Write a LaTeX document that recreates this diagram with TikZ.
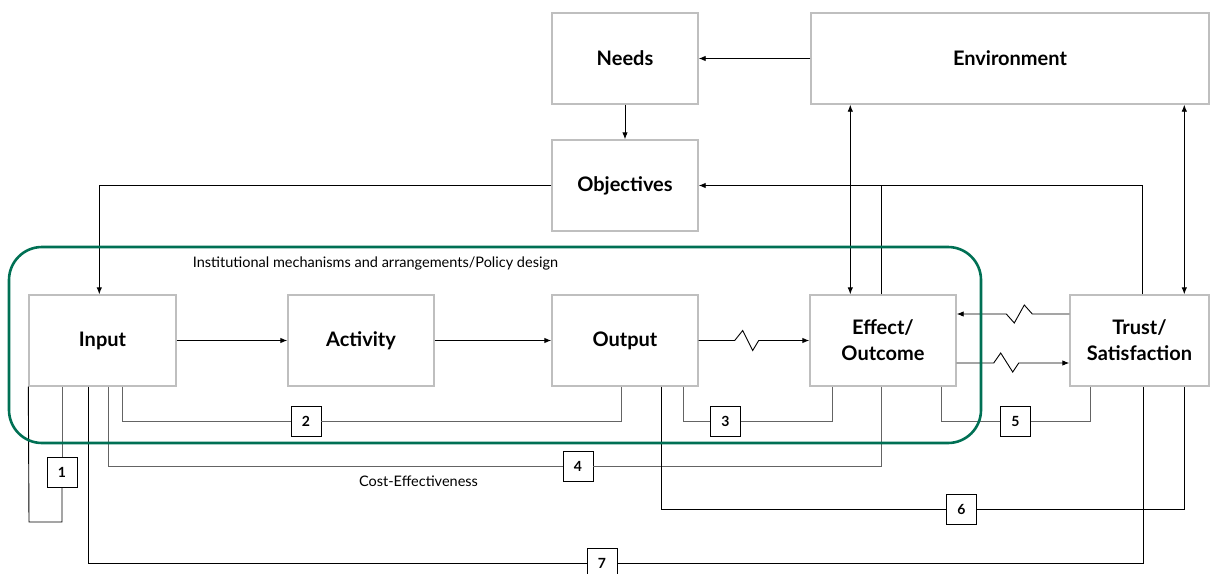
\documentclass[tikz,border=0pt]{standalone}
\usepackage{fontspec}
\setmainfont{Lato}
\usetikzlibrary{arrows.meta}
\definecolor{boxgray}{RGB}{191,191,191}
\definecolor{linegray}{RGB}{100,100,100}
\definecolor{instgreen}{RGB}{0,112,84}
\tikzset{
  mainbox/.style={draw=boxgray, line width=1.4pt, fill=white, minimum height=91pt,
    font=\fontsize{20}{26}\selectfont\bfseries, align=center, inner sep=0pt},
  numbox/.style={draw=black, line width=0.9pt, fill=white, minimum width=30pt, minimum height=30pt,
    font=\fontsize{14}{16}\selectfont\bfseries, inner sep=0pt},
  conn/.style={line width=0.9pt, draw=black},
  conng/.style={line width=0.9pt, draw=linegray},
  arr/.style={-{Latex[length=7pt,width=5.5pt]}},
  darr/.style={{Latex[length=7pt,width=5.5pt]}-{Latex[length=7pt,width=5.5pt]}},
  smalltext/.style={font=\fontsize{14.5}{17}\selectfont, inner sep=0pt}
}
\begin{document}
\begin{tikzpicture}[x=1pt,y=-1pt]
\useasboundingbox (0,0) rectangle (1210,573);
% main boxes
\node[mainbox, minimum width=146pt] (needs) at (625,58.5) {Needs};
\node[mainbox, minimum width=398pt] (env) at (1010,58.5) {Environment};
\node[mainbox, minimum width=146pt] (obj) at (625,185.5) {Objectives};
\node[mainbox, minimum width=147pt] (input) at (102.5,340.5) {Input};
\node[mainbox, minimum width=146pt] (act) at (361,340.5) {Activity};
\node[mainbox, minimum width=146pt] (out) at (625,340.5) {Output};
\node[mainbox, minimum width=146pt] (eff) at (883,340.5) {Effect/\\Outcome};
\node[mainbox, minimum width=139pt] (trust) at (1139.5,340.5) {Trust/\\Satisfaction};
% number boxes
\node[numbox] (b1) at (62,472) {1};
\node[numbox] (b2) at (306,421) {2};
\node[numbox] (b3) at (725.5,421) {3};
\node[numbox] (b4) at (578,466) {4};
\node[numbox] (b5) at (1015.5,421) {5};
\node[numbox] (b6) at (961.5,509) {6};
\node[numbox] (b7) at (602,563) {7};
% texts
\node[smalltext] (inst) at (375.5,263) {Institutional mechanisms and arrangements/Policy design};
\node[smalltext] (cost) at (418.5,481) {Cost-Effectiveness};
\coordinate (l1) at (29,522);
% top connectors
\draw[conn, arr] (env.west) -- (needs.east);
\draw[conn, arr] (needs.south) -- (obj.north);
\draw[conn, arr] (obj.west) -| ([xshift=71pt]input.north west);
\draw[conn, arr] ([xshift=73pt]trust.north west) |- (obj.east);
\draw[conn] ([xshift=72pt]eff.north west) -- ([xshift=72pt]eff.north west |- obj.east);
\draw[conn, darr] ([xshift=41pt]eff.north west) -- ([xshift=41pt]eff.north west |- env.south);
\draw[conn, darr] ([xshift=115pt]trust.north west) -- ([xshift=115pt]trust.north west |- env.south);
% main chain
\draw[conn, arr] (input.east) -- (act.west);
\draw[conn, arr] (act.east) -- (out.west);
\draw[conn, arr] (out.east) -- ++(36,0) -- ++(8,-10) -- ++(10,20) -- ++(6,-10) -- (eff.west);
\draw[conn, arr] ([yshift=26.5pt]trust.west) -- ++(-37,0) -- ++(-8,-9) -- ++(-10,18) -- ++(-8,-9) -- ([yshift=26.5pt]eff.east);
\draw[conn, arr] ([yshift=-22.5pt]eff.east) -- ++(37,0) -- ++(7,-10) -- ++(12,19) -- ++(6,-9) -- ([yshift=-22.5pt]trust.west);
% loops
\draw[conng] (b1.north) -- (b1.north |- input.south);
\draw[conn] (b1.south) |- (l1) -- (input.south west);
\draw[conng] ([xshift=94pt]input.south west) |- (b2.west);
\draw[conng] (b2.east) -| ([xshift=70pt]out.south west);
\draw[conng] ([xshift=132pt]out.south west) |- (b3.west);
\draw[conng] (b3.east) -| ([xshift=23pt]eff.south west);
\draw[conng] ([xshift=80pt]input.south west) |- (b4.west);
\draw[conng] (b4.east) -| ([xshift=72pt]eff.south west);
\draw[conng] ([xshift=132pt]eff.south west) |- (b5.west);
\draw[conng] (b5.east) -| ([xshift=21pt]trust.south west);
\draw[conn] ([xshift=110pt]out.south west) |- (b6.west);
\draw[conn] (b6.east) -| ([xshift=115pt]trust.south west);
\draw[conn] ([xshift=60pt]input.south west) |- (b7.west);
\draw[conn] (b7.east) -| ([xshift=74pt]trust.south west);
% institutional frame
\draw[instgreen, line width=2.6pt, rounded corners=33pt] (9,247) rectangle (981,443);
\end{tikzpicture}
\end{document}
